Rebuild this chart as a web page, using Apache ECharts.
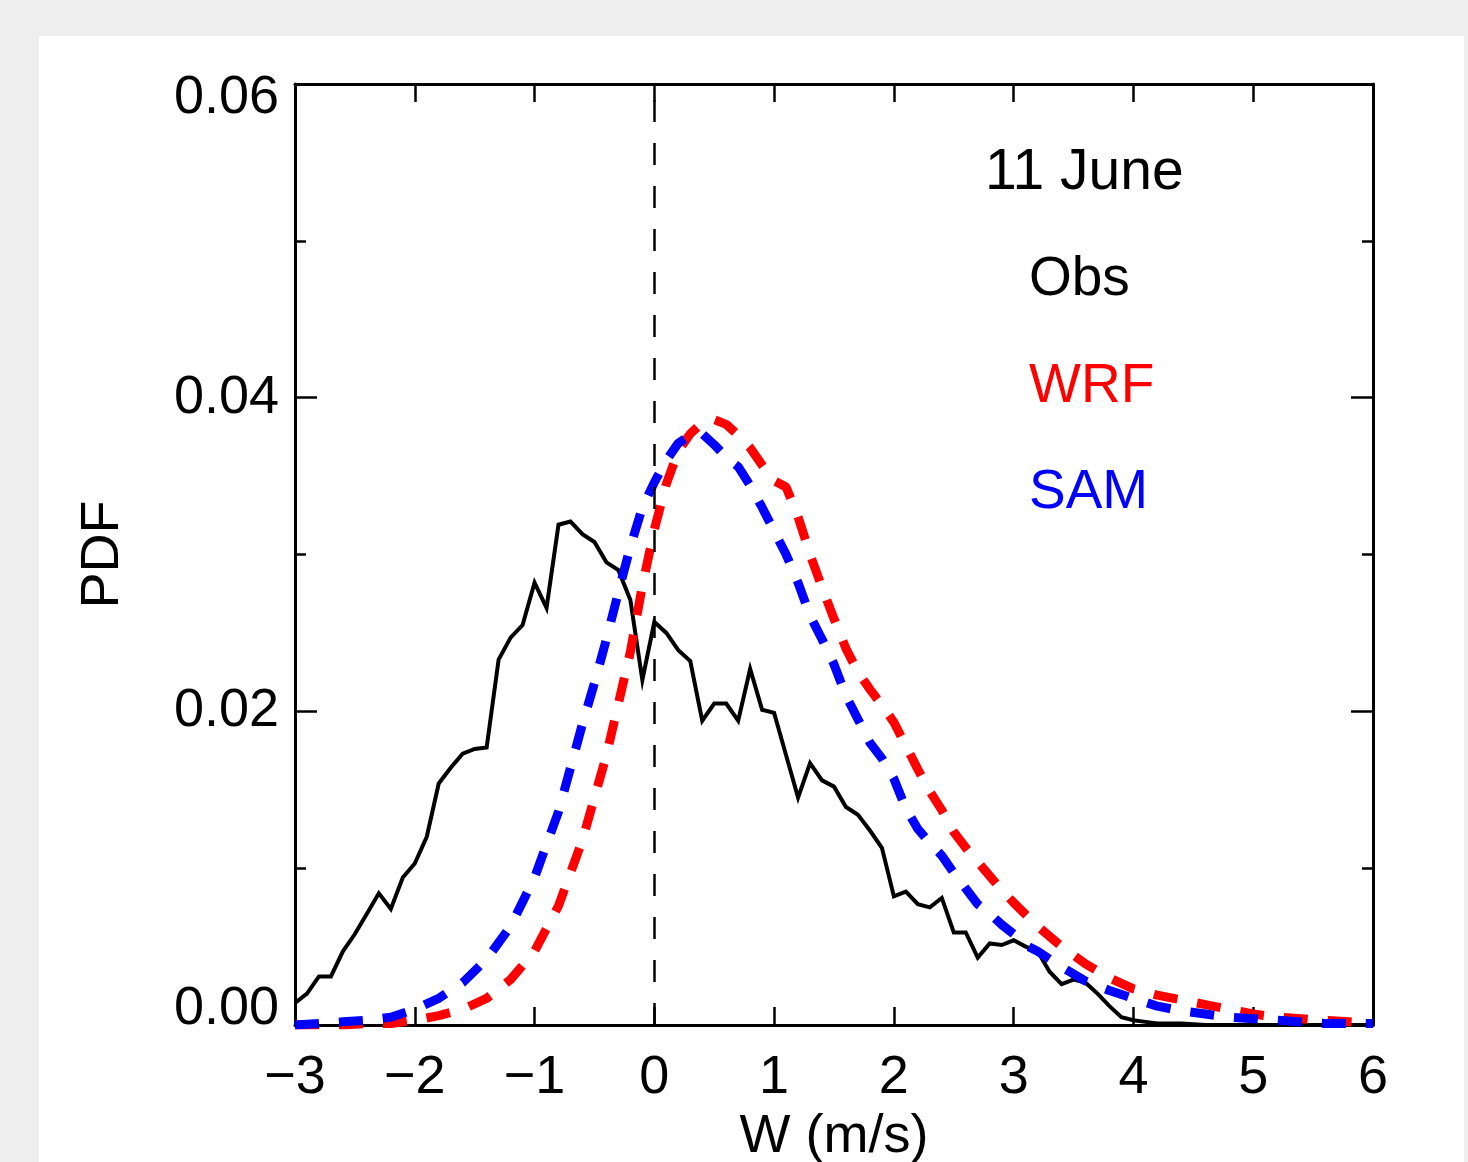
<!DOCTYPE html>
<html>
<head>
<meta charset="utf-8">
<script src="https://cdn.jsdelivr.net/npm/echarts@6/dist/echarts.min.js"></script>
<style>
  html, body { margin: 0; padding: 0; background: #eeeeee; width: 1468px; height: 1162px; overflow: hidden; }
  #panel { position: absolute; left: 39px; top: 36px; width: 1425px; height: 1126px; background: #ffffff; }
  #chart { width: 1425px; height: 1126px; }
</style>
</head>
<body>
<div id="panel"><div id="chart"></div></div>
<script>
// ---- data ----
var xTicks = [-3, -2, -1, 0, 1, 2, 3, 4, 5, 6];
var yTicks = [0.00, 0.02, 0.04, 0.06];

var obsW = [-3.0,-2.9,-2.8,-2.7,-2.6,-2.5,-2.4,-2.3,-2.2,-2.1,-2.0,-1.9,-1.8,-1.7,-1.6,-1.5,-1.4,-1.3,-1.2,-1.1,
            -1.0,-0.9,-0.8,-0.7,-0.6,-0.5,-0.4,-0.3,-0.2,-0.1,0.0,0.1,0.2,0.3,0.4,0.5,0.6,0.7,0.8,0.9,
            1.0,1.1,1.2,1.3,1.4,1.5,1.6,1.7,1.8,1.9,2.0,2.1,2.2,2.3,2.4,2.5,2.6,2.7,2.8,2.9,
            3.0,3.1,3.2,3.3,3.4,3.5,3.6,3.7,3.8,3.9,4.0,4.1,4.2,4.4,4.6,5.0,5.5,6.0];
var obsPDF = [0.0014,0.0020,0.0031,0.0031,0.0047,0.0058,0.0071,0.0084,0.0074,0.0094,0.0103,0.0120,0.0154,0.0164,0.0173,0.0176,0.0177,0.0233,0.0247,0.0255,
              0.0282,0.0266,0.0319,0.0321,0.0313,0.0308,0.0295,0.0290,0.0271,0.0220,0.0257,0.0250,0.0239,0.0232,0.0194,0.0205,0.0205,0.0194,0.0227,0.0201,
              0.0199,0.0172,0.0145,0.0167,0.0156,0.0152,0.0139,0.0134,0.0124,0.0113,0.0082,0.0085,0.0077,0.0075,0.0081,0.0059,0.0059,0.0043,0.0052,0.0051,
              0.0054,0.0050,0.0047,0.0034,0.0026,0.0029,0.0027,0.0020,0.0012,0.0005,0.0003,0.0002,0.0001,0.0001,0.0000,0.0000,0.0000,0.0000];

var wrfW = [-3.0,-2.6,-2.4,-2.2,-2.0,-1.8,-1.6,-1.4,-1.2,-1.0,-0.8,-0.6,-0.4,-0.3,-0.2,-0.1,0.0,0.1,0.2,0.3,0.4,0.5,0.6,0.7,
            0.8,0.9,1.0,1.1,1.2,1.3,1.4,1.5,1.6,1.7,1.8,1.9,2.0,2.1,2.2,2.3,2.4,2.5,2.6,2.7,2.8,2.9,3.0,3.2,3.4,3.6,3.8,4.0,
            4.2,4.4,4.6,4.8,5.0,5.2,5.4,5.6,5.8,6.0];
var wrfPDF = [0.0000,0.0000,0.0001,0.0001,0.0003,0.0006,0.0010,0.0017,0.0029,0.0047,0.0076,0.0118,0.0172,0.0205,0.0238,0.0280,0.0316,0.0345,0.0366,0.0377,0.0384,0.0386,0.0383,0.0376,
              0.0368,0.0357,0.0347,0.0343,0.0324,0.0300,0.0279,0.0259,0.0240,0.0225,0.0214,0.0204,0.0193,0.0178,0.0163,0.0149,0.0137,0.0123,0.0113,0.0104,0.0095,0.0086,0.0078,0.0063,0.0050,0.0039,0.0030,0.0023,
              0.0019,0.0016,0.0013,0.0010,0.0007,0.0005,0.0004,0.0003,0.0002,0.0001];

var samW = [-3.0,-2.8,-2.6,-2.4,-2.2,-2.0,-1.8,-1.6,-1.4,-1.2,-1.0,-0.8,-0.6,-0.5,-0.4,-0.3,-0.2,-0.1,0.0,0.1,0.2,0.3,0.4,0.5,
            0.6,0.7,0.8,0.9,1.0,1.1,1.2,1.3,1.4,1.5,1.6,1.7,1.8,1.9,2.0,2.1,2.2,2.3,2.4,2.5,2.6,2.7,2.8,2.9,3.0,3.1,3.2,3.4,
            3.6,3.8,4.0,4.2,4.4,4.6,4.8,5.0,5.2,5.6,6.0];
var samPDF = [0.0000,0.0001,0.0002,0.0003,0.0005,0.0010,0.0017,0.0027,0.0042,0.0063,0.0094,0.0136,0.0192,0.0218,0.0246,0.0276,0.0305,0.0330,0.0346,0.0360,0.0371,0.0376,0.0377,0.0370,
              0.0362,0.0356,0.0344,0.0330,0.0315,0.0300,0.0282,0.0261,0.0246,0.0230,0.0210,0.0195,0.0180,0.0170,0.0157,0.0138,0.0125,0.0116,0.0108,0.0097,0.0087,0.0077,0.0071,0.0064,0.0058,0.0051,0.0047,0.0037,
              0.0028,0.0022,0.0017,0.0012,0.0009,0.0007,0.0005,0.0004,0.0003,0.0001,0.0001];

var dateLabel = '11 June';
var seriesNames = ['Obs', 'WRF', 'SAM'];
var seriesColors = ['#000000', '#ff0000', '#0000ff'];

function pairs(xs, ys) { return xs.map(function (x, i) { return [x, ys[i]]; }); }

var FONT = '"Liberation Sans", Arial, Helvetica, sans-serif';
var chart = echarts.init(document.getElementById('chart'), null, { renderer: 'canvas' });

var axisLineStyle = { color: '#000', width: 3 };
var tickStyle = { color: '#000', width: 2.5 };

var option = {
  animation: false,
  backgroundColor: '#ffffff',
  grid: { left: 256, top: 48, width: 1078, height: 941, containLabel: false, outerBoundsMode: 'none' },
  xAxis: [
    {
      type: 'value', position: 'bottom', min: xTicks[0], max: xTicks[xTicks.length - 1], interval: 1,
      name: 'W (m/s)', nameLocation: 'middle', nameGap: 80,
      nameTextStyle: { color: '#000', fontSize: 54, fontFamily: FONT },
      axisLine: { show: true, onZero: false, lineStyle: axisLineStyle },
      axisTick: { show: true, inside: true, length: 18, lineStyle: tickStyle },
      axisLabel: {
        show: true, margin: 26, color: '#000', fontSize: 54, fontFamily: FONT,
        formatter: function (v) { return String(v).replace('-', '\u2212'); }
      },
      splitLine: { show: false }
    },
    {
      type: 'value', position: 'top', min: xTicks[0], max: xTicks[xTicks.length - 1], interval: 1,
      axisLine: { show: true, onZero: false, lineStyle: axisLineStyle },
      axisTick: { show: true, inside: true, length: 18, lineStyle: tickStyle },
      axisLabel: { show: false },
      splitLine: { show: false }
    }
  ],
  yAxis: [
    {
      type: 'value', position: 'left', min: yTicks[0], max: yTicks[yTicks.length - 1], interval: 0.02,
      name: 'PDF', nameLocation: 'middle', nameGap: 165,
      nameTextStyle: { color: '#000', fontSize: 54, fontFamily: FONT },
      axisLine: { show: true, onZero: false, lineStyle: axisLineStyle },
      axisTick: { show: true, inside: true, length: 22, lineStyle: tickStyle },
      minorTick: { show: true, splitNumber: 2, length: 11, lineStyle: tickStyle },
      axisLabel: {
        show: true, margin: 16, color: '#000', fontSize: 54, fontFamily: FONT,
        formatter: function (v) {
          var s = v.toFixed(2);
          if (Math.abs(v - 0.06) < 1e-9) return '{dn|' + s + '}';
          if (Math.abs(v) < 1e-9) return '{up|' + s + '}';
          return s;
        },
        rich: {
          dn: { color: '#000', fontSize: 54, fontFamily: FONT, padding: [28, 0, 0, 0] },
          up: { color: '#000', fontSize: 54, fontFamily: FONT, padding: [0, 0, 32, 0] }
        }
      },
      splitLine: { show: false }
    },
    {
      type: 'value', position: 'right', min: yTicks[0], max: yTicks[yTicks.length - 1], interval: 0.02,
      axisLine: { show: true, onZero: false, lineStyle: axisLineStyle },
      axisTick: { show: true, inside: true, length: 22, lineStyle: tickStyle },
      minorTick: { show: true, splitNumber: 2, length: 11, lineStyle: tickStyle },
      axisLabel: { show: false },
      splitLine: { show: false }
    }
  ],
  series: [
    {
      name: seriesNames[0], type: 'line', xAxisIndex: 0, yAxisIndex: 0,
      data: pairs(obsW, obsPDF), showSymbol: false, symbol: 'none', z: 2,
      lineStyle: { color: seriesColors[0], width: 4, join: 'miter' },
      markLine: {
        silent: true, symbol: ['none', 'none'], label: { show: false },
        lineStyle: { color: '#000', width: 2.5, type: [22, 21] },
        data: [{ xAxis: 0 }]
      }
    },
    {
      name: seriesNames[1], type: 'line', xAxisIndex: 0, yAxisIndex: 0,
      data: pairs(wrfW, wrfPDF), showSymbol: false, symbol: 'none', z: 3,
      lineStyle: { color: seriesColors[1], width: 9, type: [24, 20], cap: 'butt' }
    },
    {
      name: seriesNames[2], type: 'line', xAxisIndex: 0, yAxisIndex: 0,
      data: pairs(samW, samPDF), showSymbol: false, symbol: 'none', z: 4,
      lineStyle: { color: seriesColors[2], width: 9, type: [24, 20], cap: 'butt' }
    }
  ],
  graphic: [
    { type: 'text', x: 946, y: 137, z: 10, style: { text: dateLabel, fill: '#000', font: '57px ' + FONT, verticalAlign: 'middle' } },
    { type: 'text', x: 990, y: 244, z: 10, style: { text: seriesNames[0], fill: seriesColors[0], font: '55px ' + FONT, verticalAlign: 'middle' } },
    { type: 'text', x: 990, y: 351, z: 10, style: { text: seriesNames[1], fill: seriesColors[1], font: '55px ' + FONT, verticalAlign: 'middle' } },
    { type: 'text', x: 990, y: 457, z: 10, style: { text: seriesNames[2], fill: seriesColors[2], font: '55px ' + FONT, verticalAlign: 'middle' } }
  ]
};
chart.setOption(option);
</script>
</body>
</html>
